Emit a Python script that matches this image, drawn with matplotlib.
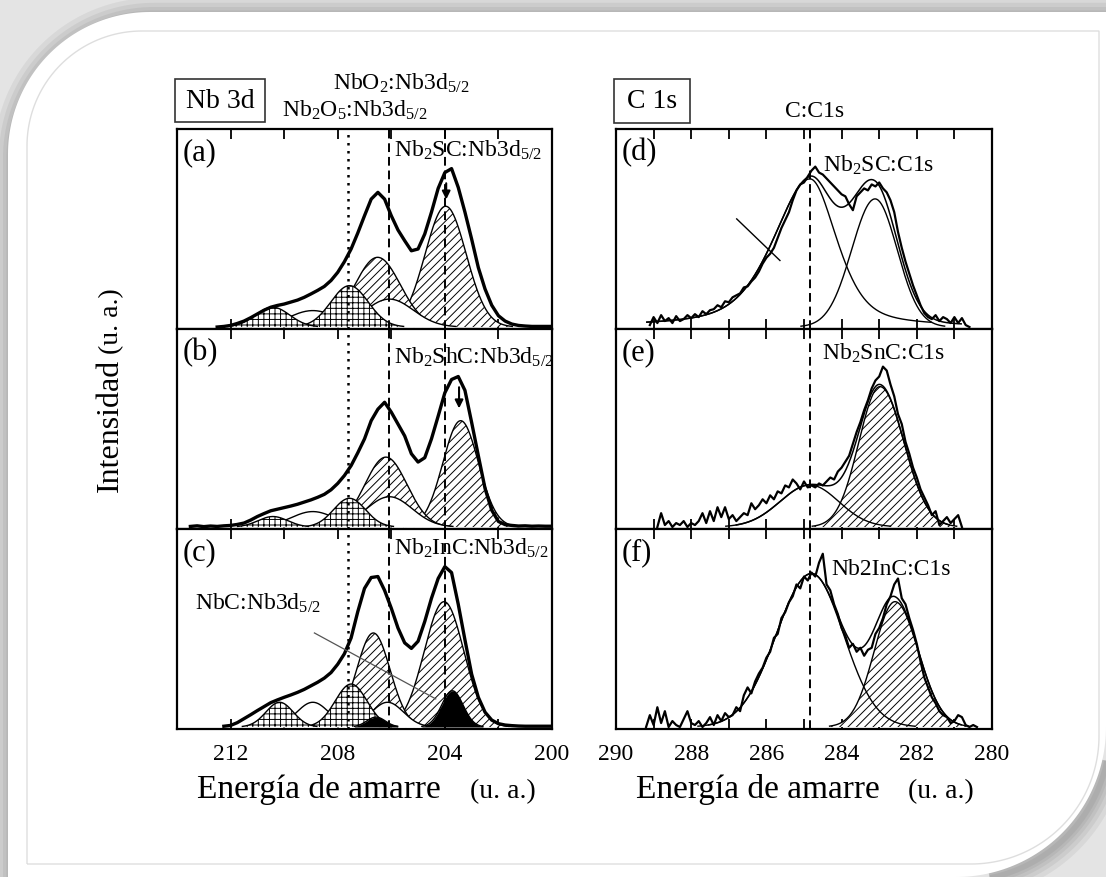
import numpy as np
import matplotlib
matplotlib.use("Agg")
import matplotlib.pyplot as plt
from matplotlib.patches import PathPatch, Rectangle
from matplotlib.path import Path

plt.rcParams['font.family'] = ['Liberation Serif', 'DejaVu Serif']
plt.rcParams['mathtext.fontset'] = 'custom'
plt.rcParams['mathtext.rm'] = 'Liberation Serif'
plt.rcParams['mathtext.it'] = 'Liberation Serif:italic'
plt.rcParams['hatch.linewidth'] = 0.7

# ----------------------------------------------------------------------
# Nb 3d spectra (measured envelope, 0.25 eV steps) and fitted components
# components: (centre eV, height, HWHM eV)
# ----------------------------------------------------------------------
NB_START = [212.5, 213.5, 212.25]
NB_STEP = 0.25
env_a = [0.0, 0.003, 0.008, 0.018, 0.03, 0.047, 0.066, 0.085, 0.10, 0.109,
         0.116, 0.126, 0.136, 0.15, 0.167, 0.185, 0.205, 0.235, 0.276, 0.33,
         0.394, 0.475, 0.562, 0.646, 0.68, 0.646, 0.562, 0.49, 0.436, 0.385,
         0.394, 0.47, 0.58, 0.70, 0.78, 0.80, 0.705, 0.58, 0.444, 0.30,
         0.192, 0.11, 0.057, 0.03, 0.015, 0.008, 0.005, 0.003, 0.003, 0.003, 0.003]
env_b = [0.003, 0.006, 0.002, 0.005, 0.003, 0.006, 0.008, 0.013, 0.02, 0.035,
         0.053, 0.068, 0.082, 0.09, 0.098, 0.106, 0.115, 0.126, 0.137, 0.15,
         0.165, 0.188, 0.22, 0.26, 0.31, 0.375, 0.445, 0.537, 0.595, 0.63,
         0.58, 0.52, 0.46, 0.37, 0.328, 0.35, 0.445, 0.56, 0.678, 0.745,
         0.76, 0.69, 0.528, 0.36, 0.195, 0.085, 0.028, 0.012, 0.008, 0.005,
         0.006, 0.004, 0.005, 0.004, 0.004]
env_c = [0.004, 0.008, 0.022, 0.042, 0.062, 0.083, 0.103, 0.123, 0.137, 0.15,
         0.162, 0.175, 0.19, 0.208, 0.226, 0.247, 0.275, 0.317, 0.37, 0.45,
         0.583, 0.70, 0.755, 0.76, 0.69, 0.60, 0.50, 0.425, 0.397, 0.433,
         0.533, 0.65, 0.75, 0.81, 0.78, 0.62, 0.44, 0.267, 0.15, 0.075,
         0.035, 0.017, 0.01, 0.007, 0.005, 0.004, 0.004, 0.004, 0.004, 0.004]

# Nb2SC
a_hatch = [(203.97, 0.61, 0.90), (206.51, 0.352, 1.00)]
a_white = [(206.07, 0.141, 1.05), (208.93, 0.083, 1.05)]
a_cross = [(207.56, 0.209, 0.82), (210.43, 0.100, 0.75)]
a_black = []
# Nb2SnC
b_hatch = [(203.41, 0.537, 0.78), (206.20, 0.353, 0.93)]
b_white = [(206.07, 0.153, 1.00), (208.93, 0.078, 0.95)]
b_cross = [(207.56, 0.145, 0.70), (210.42, 0.053, 0.65)]
b_black = []
# Nb2InC
c_hatch = [(204.03, 0.633, 0.87), (206.67, 0.475, 0.74)]
c_white = [(206.14, 0.125, 0.70), (208.93, 0.125, 0.70)]
c_cross = [(207.50, 0.217, 0.70), (210.17, 0.125, 0.60)]
c_black = [(203.72, 0.183, 0.47), (206.57, 0.050, 0.41)]

NB_LINES = [207.6, 206.1, 204.0]   # Nb2O5, NbO2, Nb2XC reference positions

# ----------------------------------------------------------------------
# C 1s spectra (raw counts, 0.1 eV steps) and fitted components
# components: (centre, height, HWHM high-BE side, HWHM low-BE side, lorentz frac)
# ----------------------------------------------------------------------
C_START = [289.1, 288.9, 289.2]
C_STEP = 0.1
data_d = [0.01, 0.05, 0.02, 0.06, 0.03, 0.045, 0.02, 0.055, 0.03, 0.04,
          0.06, 0.045, 0.065, 0.05, 0.08, 0.065, 0.085, 0.09, 0.11, 0.10,
          0.13, 0.125, 0.15, 0.16, 0.17, 0.20, 0.205, 0.23, 0.25, 0.28,
          0.32, 0.35, 0.37, 0.40, 0.45, 0.50, 0.54, 0.58, 0.64, 0.69,
          0.72, 0.73, 0.76, 0.79, 0.81, 0.78, 0.77, 0.75, 0.73, 0.71,
          0.69, 0.67, 0.66, 0.62, 0.59, 0.66, 0.68, 0.70, 0.69, 0.72,
          0.71, 0.73, 0.70, 0.68, 0.64, 0.58, 0.48, 0.40, 0.33, 0.27,
          0.21, 0.16, 0.11, 0.07, 0.05, 0.04, 0.06, 0.03, 0.05, 0.04,
          0.02, 0.05, 0.02, 0.045, 0.01, 0.0]
data_e = [0.0, 0.07, 0.01, 0.03, 0.0, 0.02, 0.01, 0.03, 0.0, 0.02,
          0.01, 0.03, 0.07, 0.02, 0.08, 0.03, 0.10, 0.05, 0.10, 0.04,
          0.06, 0.03, 0.05, 0.07, 0.06, 0.12, 0.09, 0.11, 0.14, 0.12,
          0.16, 0.14, 0.18, 0.17, 0.21, 0.20, 0.24, 0.22, 0.19, 0.23,
          0.20, 0.21, 0.20, 0.22, 0.21, 0.23, 0.25, 0.24, 0.28, 0.30,
          0.33, 0.36, 0.42, 0.48, 0.53, 0.59, 0.64, 0.70, 0.74, 0.76,
          0.81, 0.79, 0.72, 0.66, 0.57, 0.52, 0.43, 0.37, 0.30, 0.25,
          0.19, 0.15, 0.11, 0.06, 0.08, 0.01, 0.03, 0.05, 0.02, 0.04,
          0.06, 0.0]
data_f = [0.0, 0.06, 0.01, 0.10, 0.02, 0.08, 0.0, 0.03, 0.01, 0.0,
          0.04, 0.08, 0.02, 0.01, 0.03, 0.0, 0.02, 0.05, 0.01, 0.06,
          0.03, 0.07, 0.05, 0.06, 0.10, 0.08, 0.16, 0.20, 0.17, 0.23,
          0.27, 0.30, 0.35, 0.38, 0.45, 0.47, 0.55, 0.58, 0.63, 0.66,
          0.72, 0.70, 0.76, 0.74, 0.78, 0.76, 0.83, 0.875, 0.72, 0.69,
          0.62, 0.57, 0.50, 0.46, 0.40, 0.42, 0.38, 0.40, 0.36, 0.39,
          0.40, 0.47, 0.50, 0.55, 0.62, 0.66, 0.72, 0.75, 0.65, 0.62,
          0.55, 0.49, 0.42, 0.33, 0.25, 0.20, 0.15, 0.12, 0.08, 0.06,
          0.05, 0.02, 0.03, 0.06, 0.05, 0.01, 0.0, 0.01, 0.0]

d_c1s = (284.84, 0.748, 1.15, 0.84, 0.5)
d_carb = (283.11, 0.647, 0.73, 0.69, 0.0)
e_c1s = (284.84, 0.212, 0.94, 0.90, 0.0)
e_carb = (282.98, 0.709, 0.66, 0.75, 0.0)
f_c1s = (284.80, 0.775, 1.10, 1.00, 0.0)
f_carb = (282.58, 0.633, 0.65, 0.73, 0.0)

C_LINE = 284.83

nb_labels = ['(a)', '(b)', '(c)']
c_labels = ['(d)', '(e)', '(f)']
nb_phase = [r'Nb$_2$SC:Nb3d$_{5/2}$', r'Nb$_2$ShC:Nb3d$_{5/2}$', r'Nb$_2$InC:Nb3d$_{5/2}$']
c_phase = [r'Nb$_2$SC:C1s', r'Nb$_2$SnC:C1s', 'Nb2InC:C1s']


def peak(e, c, h, wl, wr, eta=0.0):
    w = np.where(e >= c, wl, wr)
    x = (e - c) / w
    return h * ((1 - eta) * np.exp(-np.log(2) * x ** 2) + eta / (1 + x ** 2))


def rounded_card(x0, y0, x1, y1, r_tl, r_br, n=60):
    t = np.linspace(np.pi, 1.5 * np.pi, n)
    tl = np.column_stack([x0 + r_tl + r_tl * np.cos(t), y0 + r_tl + r_tl * np.sin(t)])
    t = np.linspace(0, 0.5 * np.pi, n)
    br = np.column_stack([x1 - r_br + r_br * np.cos(t), y1 - r_br + r_br * np.sin(t)])
    pts = np.vstack([[x0, y1], tl, [x1, y0], br, [x0, y1]])
    return Path(pts)


W, H = 1106, 878
fig = plt.figure(figsize=(W / 100, H / 100), dpi=100)
fig.patch.set_facecolor('#e4e4e4')

# background card in pixel coordinates
bg = fig.add_axes([0, 0, 1, 1], zorder=-5)
bg.set_xlim(0, W)
bg.set_ylim(H, 0)
bg.axis('off')
card = rounded_card(8, 13, W, H, 142, 150)
shadow = rounded_card(12, 17, W + 4, H + 4, 142, 150)
for lw in [26, 19, 13, 8, 4]:
    bg.add_patch(PathPatch(shadow, fill=False, ec='black', lw=lw, alpha=0.05))
bg.add_patch(PathPatch(card, fc='white', ec='none'))
inner = rounded_card(27, 32, 1099, 865, 115, 128)
bg.add_patch(PathPatch(inner, fill=False, ec='#dedede', lw=1.0))

# figure level labels
bg.add_patch(Rectangle((175, 80), 90, 43, fill=False, ec='#333333', lw=1.2))
bg.text(220, 102, 'Nb 3d', fontsize=20, ha='center', va='center')
bg.add_patch(Rectangle((614, 80), 76, 44, fill=False, ec='#333333', lw=1.2))
bg.text(652, 102, 'C 1s', fontsize=20, ha='center', va='center')
bg.text(333, 90, r'NbO$_2$:Nb3d$_{5/2}$', fontsize=17, ha='left', va='baseline')
bg.text(282, 117, r'Nb$_2$O$_5$:Nb3d$_{5/2}$', fontsize=17, ha='left', va='baseline')
bg.text(785, 117, 'C:C1s', fontsize=17, ha='left', va='baseline')

for x_left, x_paren in [(197, 470), (636, 908)]:
    bg.text(x_left, 798, 'Energía de amarre', fontsize=24, ha='left', va='baseline')
    bg.text(x_paren, 798, '(u. a.)', fontsize=20, ha='left', va='baseline')
bg.text(118, 492, 'Intensidad', fontsize=23, rotation=90, rotation_mode='anchor',
        ha='left', va='baseline')
bg.text(118, 354, '(u. a.)', fontsize=20, rotation=90, rotation_mode='anchor',
        ha='left', va='baseline')

# panel axes
tops = [130, 330, 530]
left_cols = (177, 375)
right_cols = (616, 376)


def make_ax(col, top):
    x, w = col
    return fig.add_axes([x / W, 1 - (top + 200) / H, w / W, 200 / H])


def style_ax(ax, bottom_row):
    ax.set_ylim(-0.01, 1.0)
    ax.set_yticks([])
    ax.tick_params(axis='x', which='both', direction='in', top=True, bottom=True,
                   width=1.3, length=7, labelbottom=bottom_row, labelsize=17, pad=10)
    for s in ax.spines.values():
        s.set_linewidth(1.6)


fills = {
    'hatch': dict(facecolor='white', hatch='////'),
    'white': dict(facecolor='white', hatch=None),
    'cross': dict(facecolor='white', hatch='+++'),
    'black': dict(facecolor='black', hatch=None),
}

nb_env = [env_a, env_b, env_c]
nb_comps = [
    {'hatch': a_hatch, 'white': a_white, 'cross': a_cross, 'black': a_black},
    {'hatch': b_hatch, 'white': b_white, 'cross': b_cross, 'black': b_black},
    {'hatch': c_hatch, 'white': c_white, 'cross': c_cross, 'black': c_black},
]
eg = np.linspace(214, 200, 701)

for i, top in enumerate(tops):
    ax = make_ax(left_cols, top)
    ax.set_xlim(214, 200)
    ax.set_xticks([212, 208, 204, 200])
    ax.set_xticks([210, 206, 202], minor=True)
    style_ax(ax, i == 2)

    for z, kind in enumerate(['hatch', 'white', 'cross', 'black']):
        for c, h, w in nb_comps[i][kind]:
            y = peak(eg, c, h, w, w)
            m = y > 0.003
            ax.fill_between(eg[m], 0, y[m], edgecolor='black', linewidth=0,
                            zorder=2 + z, **fills[kind])
            ax.plot(eg[m], y[m], color='black', lw=1.0, zorder=2 + z)

    env = np.array(nb_env[i])
    e_env = NB_START[i] - NB_STEP * np.arange(len(env))
    ax.plot(e_env, env, color='black', lw=2.4, zorder=8, solid_joinstyle='round')

    ax.axvline(NB_LINES[0], color='black', lw=1.8, ls=(0, (1, 2.2)), zorder=9)
    ax.axvline(NB_LINES[1], color='black', lw=1.4, ls=(0, (4.5, 2.5)), zorder=9)
    ax.axvline(NB_LINES[2], color='black', lw=1.4, ls=(0, (4.5, 2.5)), zorder=9)

    ax.text(0.016, 0.96, nb_labels[i], transform=ax.transAxes, fontsize=22,
            ha='left', va='top')
    ax.text(205.88, [0.865, 0.83, 0.875][i], nb_phase[i], fontsize=17,
            ha='left', va='baseline', zorder=10)

    if i == 0:
        ax.annotate('', xy=(203.95, 0.63), xytext=(203.95, 0.74),
                    arrowprops=dict(arrowstyle='-|>', color='black', lw=1.5,
                                    mutation_scale=12), zorder=10)
    if i == 1:
        ax.annotate('', xy=(203.47, 0.585), xytext=(203.47, 0.72),
                    arrowprops=dict(arrowstyle='-|>', color='black', lw=1.5,
                                    mutation_scale=12), zorder=10)
    if i == 2:
        ax.text(213.33, 0.60, r'NbC:Nb3d$_{5/2}$', fontsize=17, ha='left',
                va='baseline', zorder=10)
        ax.plot([208.87, 204.34], [0.475, 0.142], color='#555555', lw=0.9, zorder=10)

c_data = [data_d, data_e, data_f]
c_comps = [(d_c1s, d_carb, False), (e_c1s, e_carb, True), (f_c1s, f_carb, True)]
cg = np.linspace(290, 280, 501)

for i, top in enumerate(tops):
    ax = make_ax(right_cols, top)
    ax.set_xlim(290, 280)
    ax.set_xticks(np.arange(290, 279, -2))
    ax.set_xticks(np.arange(289, 280, -2), minor=True)
    style_ax(ax, i == 2)

    c1s, carb, hatched = c_comps[i]
    y1 = peak(cg, *c1s)
    y2 = peak(cg, *carb)
    m2 = y2 > 0.004
    if hatched:
        ax.fill_between(cg[m2], 0, y2[m2], facecolor='white', hatch='////',
                        edgecolor='black', linewidth=0, zorder=2)
    m1 = (y1 > 0.004) & (cg < 289.2) & (cg > 281.6)
    ax.plot(cg[m1], y1[m1], color='black', lw=1.0, zorder=3)
    ax.plot(cg[m2], y2[m2], color='black', lw=1.0, zorder=3)
    fit = y1 + y2
    mf = (fit > 0.01) & (cg < 289.2) & (cg > 280.8)
    ax.plot(cg[mf], fit[mf], color='black', lw=1.1, zorder=4)

    d = np.array(c_data[i])
    e_d = C_START[i] - C_STEP * np.arange(len(d))
    ax.plot(e_d, d, color='black', lw=1.6, zorder=5)

    ax.axvline(C_LINE, color='black', lw=1.4, ls=(0, (4.5, 2.5)), zorder=9)
    ax.text(0.016, 0.96, c_labels[i], transform=ax.transAxes, fontsize=22,
            ha='left', va='top')
    ax.text([284.49, 284.53, 284.26][i], [0.79, 0.85, 0.775][i], c_phase[i],
            fontsize=17, ha='left', va='baseline', zorder=10)
    if i == 0:
        ax.plot([286.79, 285.64], [0.546, 0.336], color='black', lw=1.0, zorder=10)

fig.savefig('out.png', dpi=100, facecolor=fig.get_facecolor())
